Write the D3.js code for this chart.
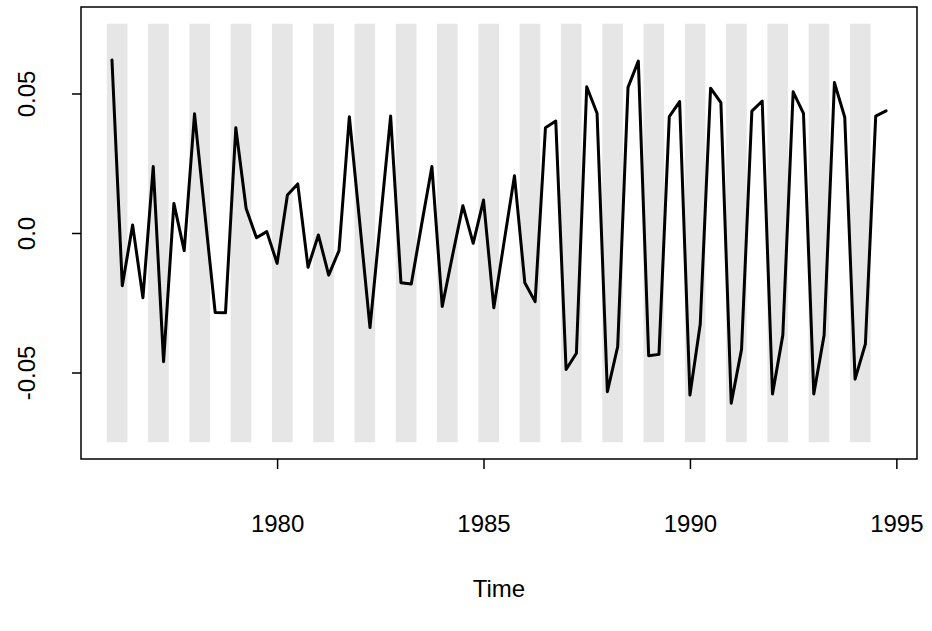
<!DOCTYPE html>
<html>
<head>
<meta charset="utf-8">
<script src="https://cdn.jsdelivr.net/npm/d3@7"></script>
<style>
  html, body { margin: 0; padding: 0; background: #ffffff; }
  text { font-family: "Liberation Sans", Arial, Helvetica, sans-serif; }
</style>
</head>
<body>
<div id="chart"></div>
<script>
// data: quarterly series, 1976 Q1 .. 1994 Q4
const startYear = 1976;
const freq = 4;
const values = [
  0.062, -0.0189, 0.0029, -0.0232,
  0.0238, -0.0461, 0.0106, -0.0063,
  0.0427, 0.007, -0.0285, -0.0286,
  0.0377, 0.0088, -0.0017, 0.0005,
  -0.0109, 0.0136, 0.0176, -0.0123,
  -0.0007, -0.0151, -0.0063, 0.0417,
  0.004, -0.0339, 0.004, 0.0419,
  -0.0178, -0.0183, 0.003, 0.0238,
  -0.0263, -0.008, 0.0098, -0.0037,
  0.0118, -0.0268, -0.003, 0.0205,
  -0.0178, -0.0246, 0.0377, 0.0401,
  -0.0489, -0.0431, 0.0524, 0.0429,
  -0.0569, -0.0407, 0.0522, 0.0616,
  -0.044, -0.0435, 0.0417, 0.0471,
  -0.0581, -0.0326, 0.0519, 0.0467,
  -0.061, -0.0417, 0.0437, 0.0473,
  -0.0577, -0.0366, 0.0506, 0.0429,
  -0.0577, -0.0366, 0.0539, 0.0415,
  -0.0524, -0.0398, 0.0419, 0.0438
];
// shaded bands: one per year, first half of the year
const bandYears = d3.range(1976, 1995);
const bandStart = -0.125, bandEnd = 0.375;
const bandLow = -0.075, bandHigh = 0.075;

const xTicks = [1980, 1985, 1990, 1995];
const yTicks = [-0.05, 0, 0.05];
const yTickLabels = ["-0.05", "0.0", "0.05"];
const xLabel = "Time";

const series = values.map((v, i) => ({ t: startYear + i / freq, v: v }));

// size
const width = 932, height = 631;
const plot = { left: 81, right: 917, top: 7, bottom: 459 };

const svg = d3.select("#chart").append("svg")
  .attr("width", width)
  .attr("height", height);

// scales (R style 4% padding)
const tMin = d3.min(series, d => d.t), tMax = d3.max(series, d => d.t);
const tPad = (tMax - tMin) * 0.04;
const x = d3.scaleLinear()
  .domain([tMin - tPad, tMax + tPad])
  .range([plot.left, plot.right]);

const yPad = (bandHigh - bandLow) * 0.04;
const y = d3.scaleLinear()
  .domain([bandLow - yPad, bandHigh + yPad])
  .range([plot.bottom, plot.top]);

// bands
svg.append("g")
  .selectAll("rect")
  .data(bandYears)
  .enter()
  .append("rect")
  .attr("x", d => x(d + bandStart))
  .attr("width", d => x(d + bandEnd) - x(d + bandStart))
  .attr("y", y(bandHigh))
  .attr("height", y(bandLow) - y(bandHigh))
  .attr("fill", "#e6e6e6");

// series line
const line = d3.line()
  .x(d => x(d.t))
  .y(d => y(d.v));

svg.append("path")
  .datum(series)
  .attr("d", line)
  .attr("fill", "none")
  .attr("stroke", "#000")
  .attr("stroke-width", 3)
  .attr("stroke-linejoin", "round")
  .attr("stroke-linecap", "round");

// x axis
const xAxis = svg.append("g")
  .attr("transform", `translate(0, ${plot.bottom})`)
  .call(d3.axisBottom(x).tickValues(xTicks).tickFormat(d3.format("d")).tickSize(10).tickSizeOuter(0));
xAxis.select(".domain").remove();
xAxis.selectAll(".tick line").attr("stroke", "#000").attr("stroke-width", 1.5);
xAxis.selectAll(".tick text")
  .attr("y", 73)
  .attr("dy", 0)
  .attr("fill", "#000")
  .style("font-size", "24px");

// y axis
const yAxis = svg.append("g")
  .attr("transform", `translate(${plot.left}, 0)`)
  .call(d3.axisLeft(y).tickValues(yTicks).tickFormat((d, i) => yTickLabels[i]).tickSize(9).tickSizeOuter(0));
yAxis.select(".domain").remove();
yAxis.selectAll(".tick line").attr("stroke", "#000").attr("stroke-width", 1.5);
yAxis.selectAll(".tick text")
  .attr("transform", "rotate(-90)")
  .attr("x", 0)
  .attr("y", -46)
  .attr("dy", 0)
  .attr("text-anchor", "middle")
  .attr("fill", "#000")
  .style("font-size", "24px");

// box
svg.append("rect")
  .attr("x", plot.left)
  .attr("y", plot.top)
  .attr("width", plot.right - plot.left)
  .attr("height", plot.bottom - plot.top)
  .attr("fill", "none")
  .attr("stroke", "#000")
  .attr("stroke-width", 1.5);

// x label
svg.append("text")
  .attr("x", (plot.left + plot.right) / 2)
  .attr("y", 597)
  .attr("text-anchor", "middle")
  .attr("fill", "#000")
  .style("font-size", "24px")
  .text(xLabel);
</script>
</body>
</html>
